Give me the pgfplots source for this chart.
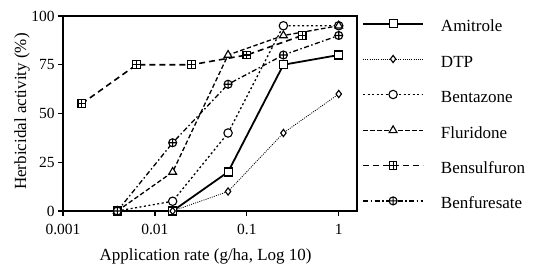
\documentclass[border=0pt]{standalone}
\usepackage{fontspec}
\setmainfont{Liberation Serif}
\usepackage{pgfplots}
\pgfplotsset{compat=1.18}
\usetikzlibrary{plotmarks}
\pgfdeclareplotmark{sqplus}{%
  \pgfpathrectangle{\pgfpoint{-\pgfplotmarksize}{-\pgfplotmarksize}}{\pgfpoint{2\pgfplotmarksize}{2\pgfplotmarksize}}%
  \pgfusepathqfillstroke
  \pgfpathmoveto{\pgfpoint{-\pgfplotmarksize}{0pt}}\pgfpathlineto{\pgfpoint{\pgfplotmarksize}{0pt}}%
  \pgfpathmoveto{\pgfpoint{0pt}{-\pgfplotmarksize}}\pgfpathlineto{\pgfpoint{0pt}{\pgfplotmarksize}}%
  \pgfusepathqstroke}
\begin{document}
\begin{tikzpicture}
\path[use as bounding box] (-63pt,-56pt) rectangle (473pt,211pt);
\begin{axis}[
  at={(0pt,0pt)}, anchor=south west,
  scale only axis, width=294pt, height=195pt,
  xmode=log, log basis x=10,
  xmin=0.001, xmax=1.58, ymin=0, ymax=100,
  xtick={0.001,0.01,0.1,1}, xticklabels={0.001,0.01,0.1,1},
  ytick={0,25,50,75,100},
  minor xtick={},
  tick align=outside, xtick pos=bottom, ytick pos=left,
  major tick length=5pt,
  tick style={line width=1.3pt, black},
  axis line style={line width=1.5pt},
  /pgf/number format/assume math mode=true,
  ticklabel style={font=\fontsize{15.5}{18}\selectfont},
  xticklabel style={yshift=-5pt},
  xlabel={Application rate (g/ha, Log 10)},
  ylabel={Herbicidal activity (\%)},
  xlabel style={font=\fontsize{17}{20}\selectfont, at={(axis description cs:0.485,0)}, anchor=north, yshift=-34pt},
  ylabel style={font=\fontsize{17}{20}\selectfont, at={(axis description cs:-0.139,0.51)}, anchor=center},
  every axis plot/.append style={black, line width=1.2pt, mark options={solid, fill=white, line width=1.1pt}},
  legend style={at={(1.017,0.982)}, anchor=north west, draw=none, fill=none,
    font=\fontsize{17}{20}\selectfont, row sep=19.3pt, column sep=17pt, inner sep=0pt,
    nodes={inner xsep=0pt, inner ysep=0pt, text height=12pt, text depth=4pt}},
  legend cell align=left,
  legend image code/.code={%
    \draw[#1, mark=none] (0pt,4pt) -- (60pt,4pt);
    \draw[#1, mark indices={2}] plot coordinates {(0pt,4pt) (30pt,4pt) (60pt,4pt)};},
]
\addplot[line width=1.8pt, mark=square*, mark size=4pt] coordinates {(0.0039,0)(0.0156,0)(0.0625,20)(0.25,75)(1,80)};
\addlegendentry{Amitrole}
\addplot[line width=0.8pt, dash pattern=on 1pt off 1.2pt, mark=diamond*, mark size=3.6pt] coordinates {(0.0039,0)(0.0156,0)(0.0625,10)(0.25,40)(1,60)};
\addlegendentry{DTP}
\addplot[line width=1.3pt, dash pattern=on 2pt off 2.5pt, mark=*, mark size=4.2pt] coordinates {(0.0039,0)(0.0156,5)(0.0625,40)(0.25,95)(1,95)};
\addlegendentry{Bentazone}
\addplot[line width=1.3pt, dash pattern=on 4.5pt off 2.5pt, mark=triangle*, mark size=4.5pt] coordinates {(0.0039,0)(0.0156,20)(0.0625,80)(0.25,90)(1,95)};
\addlegendentry{Fluridone}
\addplot[line width=1.6pt, dash pattern=on 6pt off 4pt, mark=sqplus, mark size=3.8pt] coordinates {(0.0016,55)(0.0063,75)(0.025,75)(0.1,80)(0.4,90)};
\addlegendentry{Bensulfuron}
\addplot[line width=1.3pt, dash pattern=on 5pt off 2.5pt on 1.5pt off 2.5pt, mark=oplus*, mark size=4pt] coordinates {(0.0039,0)(0.0156,35)(0.0625,65)(0.25,80)(1,90)};
\addlegendentry{Benfuresate}
\end{axis}
\end{tikzpicture}
\end{document}
